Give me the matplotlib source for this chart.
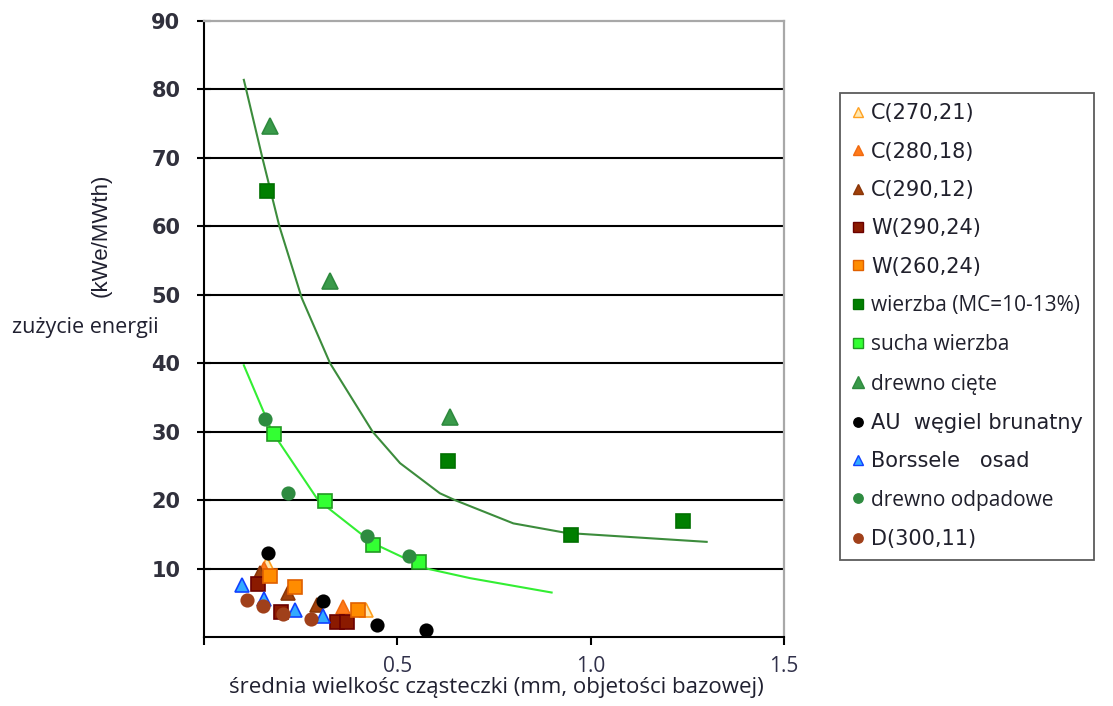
import matplotlib
matplotlib.use("Agg")
import matplotlib.pyplot as plt
from matplotlib.lines import Line2D

# ---------------- data ----------------
c270_x = [0.162, 0.420]
c270_y = [10.7, 3.9]
c280_x = [0.155, 0.360]
c280_y = [10.0, 4.4]
c290_x = [0.145, 0.218, 0.291]
c290_y = [9.3, 6.4, 4.7]
w290_x = [0.140, 0.199, 0.343, 0.369]
w290_y = [7.7, 3.7, 2.2, 2.2]
w260_x = [0.171, 0.235, 0.399]
w260_y = [8.9, 7.3, 3.9]
wierzba_x = [0.163, 0.630, 0.948, 1.238]
wierzba_y = [65.2, 25.7, 14.9, 16.9]
sucha_x = [0.181, 0.313, 0.438, 0.557]
sucha_y = [29.6, 19.8, 13.4, 10.9]
ciete_x = [0.171, 0.326, 0.635]
ciete_y = [74.6, 52.0, 32.2]
au_x = [0.165, 0.307, 0.448, 0.573]
au_y = [12.3, 5.2, 1.8, 1.0]
bors_x = [0.097, 0.156, 0.235, 0.309]
bors_y = [7.6, 5.5, 4.0, 3.1]
odpad_x = [0.158, 0.218, 0.422, 0.531]
odpad_y = [31.9, 21.1, 14.7, 11.8]
d300_x = [0.112, 0.153, 0.205, 0.276]
d300_y = [5.4, 4.5, 3.3, 2.7]

# fitted trend curves
fit_dark_x = [0.103, 0.109, 0.151, 0.195, 0.253, 0.326, 0.436, 0.507, 0.610, 0.649, 0.800, 0.938, 1.300]
fit_dark_y = [81.4, 80.0, 70.0, 60.0, 49.5, 40.0, 30.0, 25.4, 21.0, 20.0, 16.6, 15.2, 13.9]
fit_light_x = [0.103, 0.176, 0.295, 0.437, 0.576, 0.688, 0.899]
fit_light_y = [39.7, 30.0, 20.0, 13.7, 10.0, 8.6, 6.5]

y_ticks = [10, 20, 30, 40, 50, 60, 70, 80, 90]
x_ticks = [0.0, 0.5, 1.0, 1.5]
x_tick_labels = ["", "0.5", "1.0", "1.5"]

# ---------------- figure ----------------
W, H = 1113, 706
fig = plt.figure(figsize=(W / 100, H / 100), dpi=100)
ax = fig.add_axes([204 / W, 1 - 637 / H, (784 - 204) / W, (637 - 21) / H])

ax.set_xlim(0, 1.5)
ax.set_ylim(0, 90)

for yv in y_ticks[:-1]:
    ax.axhline(yv, color="black", lw=1.5, zorder=1)

ax.spines["top"].set_color("#a8a8a8")
ax.spines["right"].set_color("#a8a8a8")
ax.spines["top"].set_linewidth(1.6)
ax.spines["right"].set_linewidth(1.6)
ax.spines["left"].set_linewidth(1.5)
ax.spines["bottom"].set_linewidth(1.5)

# curves
ax.plot(fit_dark_x, fit_dark_y, color="#3c8c3c", lw=1.5, zorder=2)
ax.plot(fit_light_x, fit_light_y, color="#33ee33", lw=1.5, zorder=2)

ms = 9.5
specs = [
    ("C(270,21)", c270_x, c270_y, "^", "#ffe8b0", "#ffa020", 10.5),
    ("C(280,18)", c280_x, c280_y, "^", "#ff7a1a", "#f06a10", 10.5),
    ("C(290,12)", c290_x, c290_y, "^", "#a0400a", "#8a3608", 10.5),
    ("W(290,24)", w290_x, w290_y, "s", "#8b1a00", "#6b0000", ms),
    ("W(260,24)", w260_x, w260_y, "s", "#ff8c00", "#e06000", ms),
    ("wierzba (MC=10-13%)", wierzba_x, wierzba_y, "s", "#007f00", "#007000", ms),
    ("sucha wierzba", sucha_x, sucha_y, "s", "#33ff33", "#229a22", ms),
    ("drewno cięte", ciete_x, ciete_y, "^", "#3a9a4a", "#2e8a3e", 11),
    ("AU  węgiel brunatny", au_x, au_y, "o", "black", "black", 9),
    ("Borssele   osad", bors_x, bors_y, "^", "#33aaff", "#1040ff", 10.5),
    ("drewno odpadowe", odpad_x, odpad_y, "o", "#2e8b40", "#2e8b40", 9),
    ("D(300,11)", d300_x, d300_y, "o", "#a0401a", "#a0401a", 9),
]

order = [11, 9, 3, 2, 1, 0, 4, 5, 6, 7, 10, 8]
for i in order:
    lab, xs, ys, mk, fc, ec, sz = specs[i]
    ax.plot(xs, ys, linestyle="none", marker=mk, markersize=sz,
            markerfacecolor=fc, markeredgecolor=ec, markeredgewidth=1.2, zorder=3 + i * 0.01)

# ticks
ax.set_yticks(y_ticks)
ax.set_xticks(x_ticks)
ax.set_xticklabels(x_tick_labels)
ax.tick_params(axis="y", direction="inout", length=10, width=1.5, pad=12,
               labelsize=15, labelcolor="#30303c")
ax.tick_params(axis="x", direction="out", length=6, width=1.5, pad=8,
               labelsize=15, labelcolor="#30304a")
for t in ax.get_yticklabels():
    t.set_fontfamily("DejaVu Sans")
    t.set_fontweight("bold")
for t in ax.get_xticklabels():
    t.set_fontfamily("Open Sans")

# axis texts
fig.text(496 / W, 1 - 688 / H, "średnia wielkośc cząsteczki (mm, objetości bazowej)",
         ha="center", va="center", fontsize=16, family="Open Sans", color="#202030")
fig.text(12 / W, 1 - 327 / H, "zużycie energii", ha="left", va="center",
         fontsize=15.5, family="Open Sans", color="#202030")
fig.text(101 / W, 1 - 235 / H, "(kWe/MWth)", ha="center", va="center", rotation=90,
         fontsize=16, family="Liberation Sans", color="#202030")

# legend
handles = []
labels = []
for lab, xs, ys, mk, fc, ec, sz in specs:
    handles.append(Line2D([], [], linestyle="none", marker=mk, markersize=sz * 0.75,
                          markerfacecolor=fc, markeredgecolor=ec, markeredgewidth=1.0))
    labels.append(lab)
leg = fig.legend(handles, labels, loc="upper left",
                 bbox_to_anchor=(840 / W, 1 - 93 / H), borderaxespad=0,
                 frameon=True, fancybox=False, edgecolor="#333333",
                 fontsize=15, labelspacing=0.88, handlelength=0.7,
                 handletextpad=0.3, borderpad=0.5)
leg.get_frame().set_linewidth(1.3)
for t in leg.get_texts():
    if t.get_text() in {"sucha wierzba", "drewno cięte", "drewno odpadowe", "wierzba (MC=10-13%)"}:
        t.set_fontfamily("Open Sans")
    else:
        t.set_fontfamily("DejaVu Sans")
    t.set_color("#20202c")

fig.savefig("out.png", dpi=100)
